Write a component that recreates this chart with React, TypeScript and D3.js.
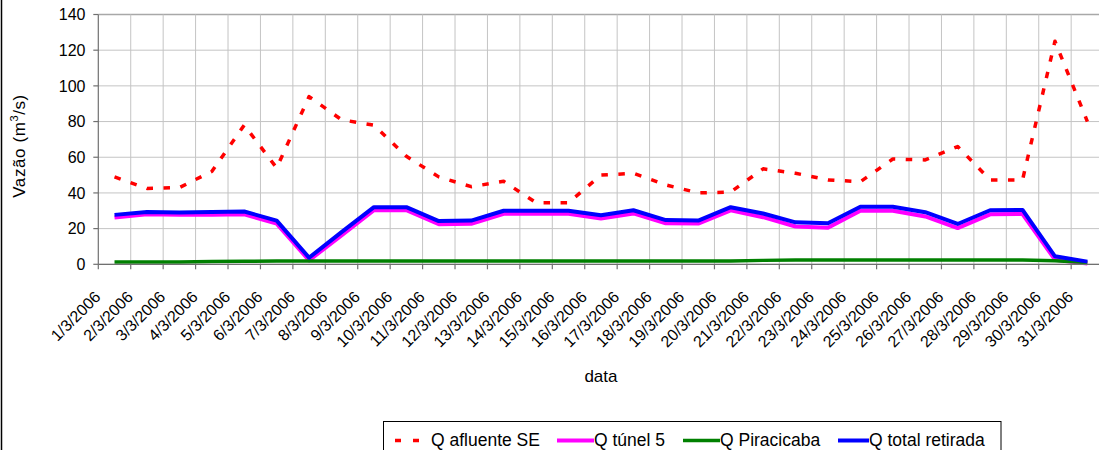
import React from "react";
import * as d3 from "d3";

const dates = [
  "1/3/2006", "2/3/2006", "3/3/2006", "4/3/2006", "5/3/2006", "6/3/2006", "7/3/2006", "8/3/2006",
  "9/3/2006", "10/3/2006", "11/3/2006", "12/3/2006", "13/3/2006", "14/3/2006", "15/3/2006", "16/3/2006",
  "17/3/2006", "18/3/2006", "19/3/2006", "20/3/2006", "21/3/2006", "22/3/2006", "23/3/2006", "24/3/2006",
  "25/3/2006", "26/3/2006", "27/3/2006", "28/3/2006", "29/3/2006", "30/3/2006", "31/3/2006",
];

const qAfluente = [49, 42.5, 43, 52, 78, 54, 94, 81, 78, 60.5, 49, 43.5, 46.5, 34.5, 34.5, 50, 51, 44.5, 40, 40.5, 53.5, 51, 47.3, 46.3, 59, 58.5, 66, 47.3, 47.3, 125, 80];
const qTunel5 = [26.2, 28, 27.8, 27.8, 28, 22.8, 2.2, 16.2, 30.3, 30.3, 22.5, 22.7, 28.3, 28.3, 28.3, 25.7, 28.5, 23, 22.8, 30.2, 26.4, 21.2, 20.5, 30, 30, 26.8, 20.3, 28, 28.2, 2.6, 0.5];
const qPiracicaba = [1.3, 1.3, 1.3, 1.5, 1.7, 1.8, 1.8, 1.8, 1.8, 1.8, 1.8, 1.8, 1.8, 1.8, 1.8, 1.8, 1.8, 1.8, 1.8, 1.9, 2.2, 2.4, 2.4, 2.4, 2.4, 2.4, 2.4, 2.4, 2.4, 2.0, 1.0];
const qTotal = [27.7, 29.3, 29, 29.3, 29.6, 24.5, 3.7, 18, 32, 32, 24.2, 24.5, 30, 30, 30, 27.5, 30.3, 24.8, 24.5, 32, 28.5, 23.5, 23, 32.3, 32.3, 29.2, 22.6, 30.3, 30.5, 4.5, 1.5];

const yTicks = [0, 20, 40, 60, 80, 100, 120, 140];

const seriesNames = ["Q afluente SE", "Q túnel 5", "Q Piracicaba", "Q total retirada"];

const FONT = "'Liberation Sans', Arial, sans-serif";

export default function App() {
  const W = 1099;
  const H = 450;
  const left = 98.3;
  const right = 1103.6;
  const top = 14.5;
  const bottom = 264.3;

  const x = d3.scaleBand<string>().domain(dates).range([left, right]).padding(0);
  const y = d3.scaleLinear().domain([0, 140]).range([bottom, top]);
  const cx = (i: number) => (x(dates[i]) as number) + x.bandwidth() / 2;

  const line = d3
    .line<number>()
    .x((_, i) => cx(i))
    .y((v) => y(v));

  const boundaries = dates.map((d) => x(d) as number).concat([right]);

  const series = [
    { name: seriesNames[0], data: qAfluente, color: "#ff0000", width: 3.5, dash: "6.5,10.5" },
    { name: seriesNames[1], data: qTunel5, color: "#ff00ff", width: 4, dash: undefined },
    { name: seriesNames[2], data: qPiracicaba, color: "#008000", width: 3.5, dash: undefined },
    { name: seriesNames[3], data: qTotal, color: "#0000ff", width: 4, dash: undefined },
  ];

  const legendLayout = [
    { x1: 395, x2: 419, tx: 431, dash: "6,12" },
    { x1: 557, x2: 594, tx: 594, dash: undefined },
    { x1: 683, x2: 720, tx: 720, dash: undefined },
    { x1: 838, x2: 869, tx: 869, dash: undefined },
  ];

  return (
    <svg
      width={W}
      height={H}
      style={{ position: "absolute", left: 0, top: 0, display: "block", background: "#fff" }}
      fontFamily={FONT}
    >
      <rect x={0} y={0} width={W} height={H} fill="#fff" />
      {/* outer chart border (left visible) */}
      <line x1={1.5} x2={1.5} y1={0} y2={H} stroke="#000" strokeWidth={1.5} />

      {/* horizontal gridlines */}
      {yTicks.map((t) => (
        <line
          key={"hg" + t}
          x1={left}
          x2={right}
          y1={y(t)}
          y2={y(t)}
          stroke={t === 140 ? "#a8a8a8" : "#c4c4c4"}
          strokeWidth={t === 140 ? 1.5 : 1}
        />
      ))}
      {/* vertical gridlines */}
      {boundaries.slice(1).map((bx, i) => (
        <line key={"vg" + i} x1={bx} x2={bx} y1={top} y2={bottom} stroke="#c4c4c4" strokeWidth={1} />
      ))}

      {/* y axis */}
      <line x1={left} x2={left} y1={top} y2={bottom} stroke="#707070" strokeWidth={1.2} />
      {yTicks.map((t) => (
        <g key={"yt" + t}>
          <line x1={left - 5} x2={left} y1={y(t)} y2={y(t)} stroke="#707070" strokeWidth={1.2} />
          <text x={85.5} y={y(t)} dy="0.36em" textAnchor="end" fontSize={16} fill="#000">
            {t}
          </text>
        </g>
      ))}

      {/* series */}
      {series.map((s) => (
        <path
          key={s.name}
          d={line(s.data) as string}
          fill="none"
          stroke={s.color}
          strokeWidth={s.width}
          strokeDasharray={s.dash}
          strokeLinejoin="round"
        />
      ))}

      {/* x axis */}
      <line x1={left} x2={right} y1={bottom} y2={bottom} stroke="#707070" strokeWidth={1.2} />
      {boundaries.map((bx, i) => (
        <line key={"xt" + i} x1={bx} x2={bx} y1={bottom} y2={bottom + 5} stroke="#707070" strokeWidth={1.2} />
      ))}
      {dates.map((d, i) => (
        <text
          key={"xl" + d}
          transform={`translate(${cx(i) - 13},${298}) rotate(-45)`}
          textAnchor="end"
          fontSize={16}
          fill="#000"
        >
          {d}
        </text>
      ))}

      {/* axis titles */}
      <text x={(left + right) / 2} y={382} textAnchor="middle" fontSize={17} fill="#000">
        data
      </text>
      <text
        transform={`translate(25,${146}) rotate(-90)`}
        textAnchor="middle"
        fontSize={17}
        letterSpacing={0.6}
        fill="#000"
      >
        Vazão (m<tspan dy={-7} fontSize={11}>3</tspan>
        <tspan dy={7}>/s)</tspan>
      </text>

      {/* legend */}
      <rect x={383.5} y={421.5} width={617.5} height={40} fill="#fff" stroke="#000" strokeWidth={1} />
      {series.map((s, i) => {
        const L = legendLayout[i];
        return (
          <g key={"lg" + s.name}>
            <line
              x1={L.x1}
              x2={L.x2}
              y1={440.5}
              y2={440.5}
              stroke={s.color}
              strokeWidth={s.width}
              strokeDasharray={L.dash}
            />
            <text x={L.tx} y={446} fontSize={17.5} fill="#000">
              {s.name}
            </text>
          </g>
        );
      })}
    </svg>
  );
}
